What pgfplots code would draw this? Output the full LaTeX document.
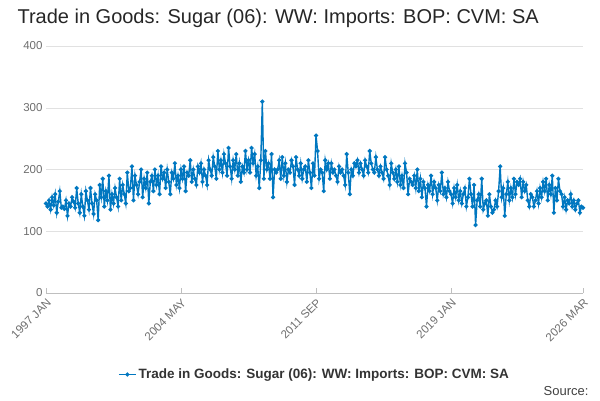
\documentclass[border=0pt]{standalone}
\usepackage{pgfplots}
\pgfplotsset{compat=1.18}
\usepackage{fontspec}
\setmainfont{Liberation Sans}
\definecolor{ln}{RGB}{0,119,192}
\definecolor{tk}{RGB}{110,110,110}
\definecolor{gr}{RGB}{225,225,225}
\begin{document}
\begin{tikzpicture}
\useasboundingbox (0pt,0pt) rectangle (600pt,400pt);
\node[anchor=west,text=black!85] at (14pt,382pt) {\fontsize{20}{23}\selectfont Trade in Goods: Sugar (06): WW: Imports: BOP: CVM: SA};
\node[anchor=east,text=black!75] at (592pt,9pt) {\fontsize{13}{15}\selectfont Source:};
\begin{axis}[at={(46pt,107pt)},anchor=origin,scale only axis,width=537pt,height=247pt,
 xmin=0,xmax=350,ymin=0,ymax=400,
 ytick={0,100,200,300,400},
 xtick={0,88,176,264,350},
 xticklabels={1997 JAN,2004 MAY,2011 SEP,2019 JAN,2026 MAR},
 xticklabel style={rotate=45,anchor=north east,font=\fontsize{11.5}{12}\selectfont,text=tk},
 yticklabel style={font=\fontsize{11.5}{12}\selectfont,text=tk},
 /pgf/number format/assume math mode=true,
 ymajorgrids,grid style={gr},
 axis y line*=left,axis x line*=bottom,
 y axis line style={draw=none},
 x axis line style={draw=black!25},
 major tick length=5pt,ytick style={draw=none},xtick style={black!25},
 legend style={at={(0.5,-0.29)},anchor=north,draw=none,font=\bfseries\fontsize{13.5}{15}\selectfont,text=black!80},
 legend cell align=left]
\addplot[ln,line width=1.4pt,mark=*,mark size=1.3pt] table[x expr=\coordindex,y index=0]{
v
145
140
150
135
155
142
160
130
148
165
138
140
136
150
125
145
140
155
148
138
170
145
130
160
140
125
165
150
135
170
145
128
160
150
118
175
155
185
140
165
150
190
135
160
145
170
155
140
185
150
175
160
145
195
165
170
205
150
190
175
160
180
200
155
185
170
195
145
180
190
165
200
175
190
160
205
185
195
170
200
180
160
195
185
210
175
190
170
200
185
205
165
195
190
215
180
200
185
175
205
195
210
180
200
190
175
215
200
190
220
205
185
230
200
215
195
225
210
190
235
205
185
215
200
225
190
210
180
205
195
230
200
215
195
235
210
225
190
205
170
215
310
185
230
200
210
185
225
155
200
195
200
215
185
220
190
210
180
200
195
215
205
175
220
200
190
210
185
200
205
180
215
195
170
210
190
255
230
185
200
195
165
215
200
210
185
210
195
200
190
180
205
195
200
190
175
225
195
160
200
190
210
205
215
195
210
200
190
215
205
195
230
210
200
195
220
200
190
205
195
185
220
200
190
175
210
195
185
200
180
205
175
190
170
210
195
160
185
180
175
190
170
200
165
185
155
180
170
140
175
165
190
160
180
170
150
175
165
195
160
170
155
180
165
160
145
170
155
175
150
165
145
160
170
140
155
185
160
140
175
110
150
160
140
185
135
145
150
125
160
140
130
135
150
140
165
205
155
170
125
160
180
150
170
155
185
160
180
175
185
155
180
165
175
150
140
160
155
140
150
165
145
170
155
180
165
185
150
175
160
190
130
170
150
185
165
160
140
155
135
150
145
160
140
150
135
145
150
130
140
138
};
\addlegendentry{Trade in Goods: Sugar (06): WW: Imports: BOP: CVM: SA}
\end{axis}
\end{tikzpicture}
\end{document}
